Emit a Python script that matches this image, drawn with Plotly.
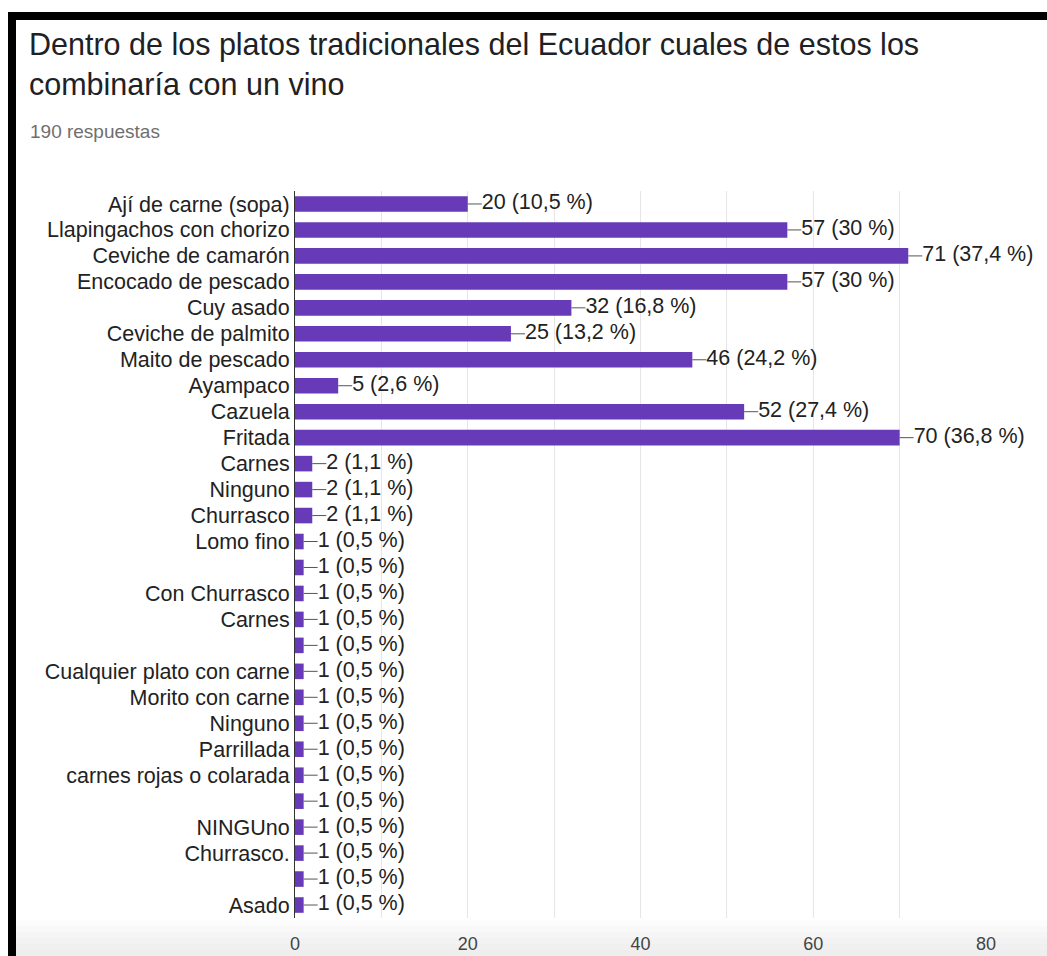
import plotly.graph_objects as go

# Survey answers, listed top to bottom as they appear in the chart
labels = [
    "Ají de carne (sopa)", "Llapingachos con chorizo", "Ceviche de camarón",
    "Encocado de pescado", "Cuy asado", "Ceviche de palmito", "Maito de pescado",
    "Ayampaco", "Cazuela", "Fritada", "Carnes", "Ninguno", "Churrasco",
    "Lomo fino", "", "Con Churrasco", "Carnes", "", "Cualquier plato con carne",
    "Morito con carne", "Ninguno", "Parrillada", "carnes rojas o colarada", "",
    "NINGUno", "Churrasco.", "", "Asado",
]
counts = [20, 57, 71, 57, 32, 25, 46, 5, 52, 70, 2, 2, 2,
          1, 1, 1, 1, 1, 1, 1, 1, 1, 1, 1, 1, 1, 1, 1]
total_responses = 190

x_ticks = [0, 10, 20, 30, 40, 50, 60, 70, 80]
x_tick_text = ["0", "", "20", "", "40", "", "60", "", "80"]

BAR_COLOR = "#673ab7"
FONT = "Liberation Sans, Arial, sans-serif"

fig_w, fig_h = 1047, 956
m_l, m_r, m_t, m_b = 295, 61, 191, 38
plot_w = fig_w - m_l - m_r
plot_h = fig_h - m_t - m_b
x_max = 80


def px_x(p):
    return (p - m_l) / plot_w


def px_y(p):
    return (fig_h - m_b - p) / plot_h


def pct_text(c):
    pct = round(c / total_responses * 100, 1)
    s = f"{pct:.1f}".replace(".", ",")
    if s.endswith(",0"):
        s = s[:-2]
    return f"{c} ({s} %)"


rows = list(range(len(labels)))
conn_len = 14 * x_max / plot_w  # connector length in data units

fig = go.Figure()

fig.add_trace(go.Bar(
    x=counts, y=rows, orientation="h", width=0.6,
    marker=dict(color=BAR_COLOR, line=dict(width=0)),
    hoverinfo="skip",
))

# short leader lines from each bar end to its value label
cx, cy = [], []
for r, c in zip(rows, counts):
    cx += [c, c + conn_len, None]
    cy += [r, r, None]
fig.add_trace(go.Scatter(
    x=cx, y=cy, mode="lines", line=dict(color="#555555", width=1),
    hoverinfo="skip",
))

fig.add_trace(go.Scatter(
    x=[c + conn_len for c in counts], y=rows, mode="text",
    text=[pct_text(c) for c in counts], textposition="middle right",
    textfont=dict(family=FONT, size=21.5, color="#222222"),
    hoverinfo="skip", cliponaxis=False,
))

shapes = []
# soft grey footer band under the axis
band_cols = ["#fcfcfc", "#f8f8f8", "#f5f5f5", "#f2f2f2", "#f0f0f0", "#eeeeee"]
band_top, band_bot = 920, 956
step = (band_bot - band_top) / len(band_cols)
for i, col in enumerate(band_cols):
    shapes.append(dict(
        type="rect", xref="paper", yref="paper", layer="below",
        x0=px_x(16), x1=px_x(fig_w),
        y0=px_y(band_top + (i + 1) * step), y1=px_y(band_top + i * step),
        fillcolor=col, line=dict(width=0),
    ))
# black frame on the top and left
shapes.append(dict(
    type="rect", xref="paper", yref="paper",
    x0=px_x(8), x1=px_x(fig_w), y0=px_y(20), y1=px_y(12),
    fillcolor="black", line=dict(width=0),
))
shapes.append(dict(
    type="rect", xref="paper", yref="paper",
    x0=px_x(8), x1=px_x(16), y0=px_y(fig_h), y1=px_y(12),
    fillcolor="black", line=dict(width=0),
))

annotations = [
    dict(text="Dentro de los platos tradicionales del Ecuador cuales de estos los",
         xref="paper", yref="paper", x=px_x(27), y=px_y(45),
         xanchor="left", yanchor="middle", showarrow=False,
         font=dict(family=FONT, size=30.5, color="#202124")),
    dict(text="combinaría con un vino",
         xref="paper", yref="paper", x=px_x(27), y=px_y(84),
         xanchor="left", yanchor="middle", showarrow=False,
         font=dict(family=FONT, size=30.5, color="#202124")),
    dict(text="190 respuestas",
         xref="paper", yref="paper", x=px_x(28), y=px_y(131),
         xanchor="left", yanchor="middle", showarrow=False,
         font=dict(family=FONT, size=19, color="#6f6f6f")),
]

fig.update_layout(
    width=fig_w, height=fig_h,
    margin=dict(l=m_l, r=m_r, t=m_t, b=m_b, pad=0),
    paper_bgcolor="white", plot_bgcolor="white",
    showlegend=False,
    shapes=shapes, annotations=annotations,
    xaxis=dict(
        range=[0, x_max], tickvals=x_ticks, ticktext=x_tick_text,
        showgrid=True, gridcolor="#e6e6e6", gridwidth=1, zeroline=False,
        showline=False, ticks="outside", ticklen=9,
        tickcolor="rgba(0,0,0,0)", automargin=False,
        tickfont=dict(family=FONT, size=18, color="#444444"),
        fixedrange=True,
    ),
    yaxis=dict(
        range=[len(labels) - 0.5, -0.5], tickvals=rows, ticktext=labels,
        showgrid=False, zeroline=False, showline=True, automargin=False,
        linecolor="#333333", linewidth=1, ticks="",
        tickfont=dict(family=FONT, size=21.5, color="#222222"),
        fixedrange=True,
    ),
)

fig.write_html("out.html")
